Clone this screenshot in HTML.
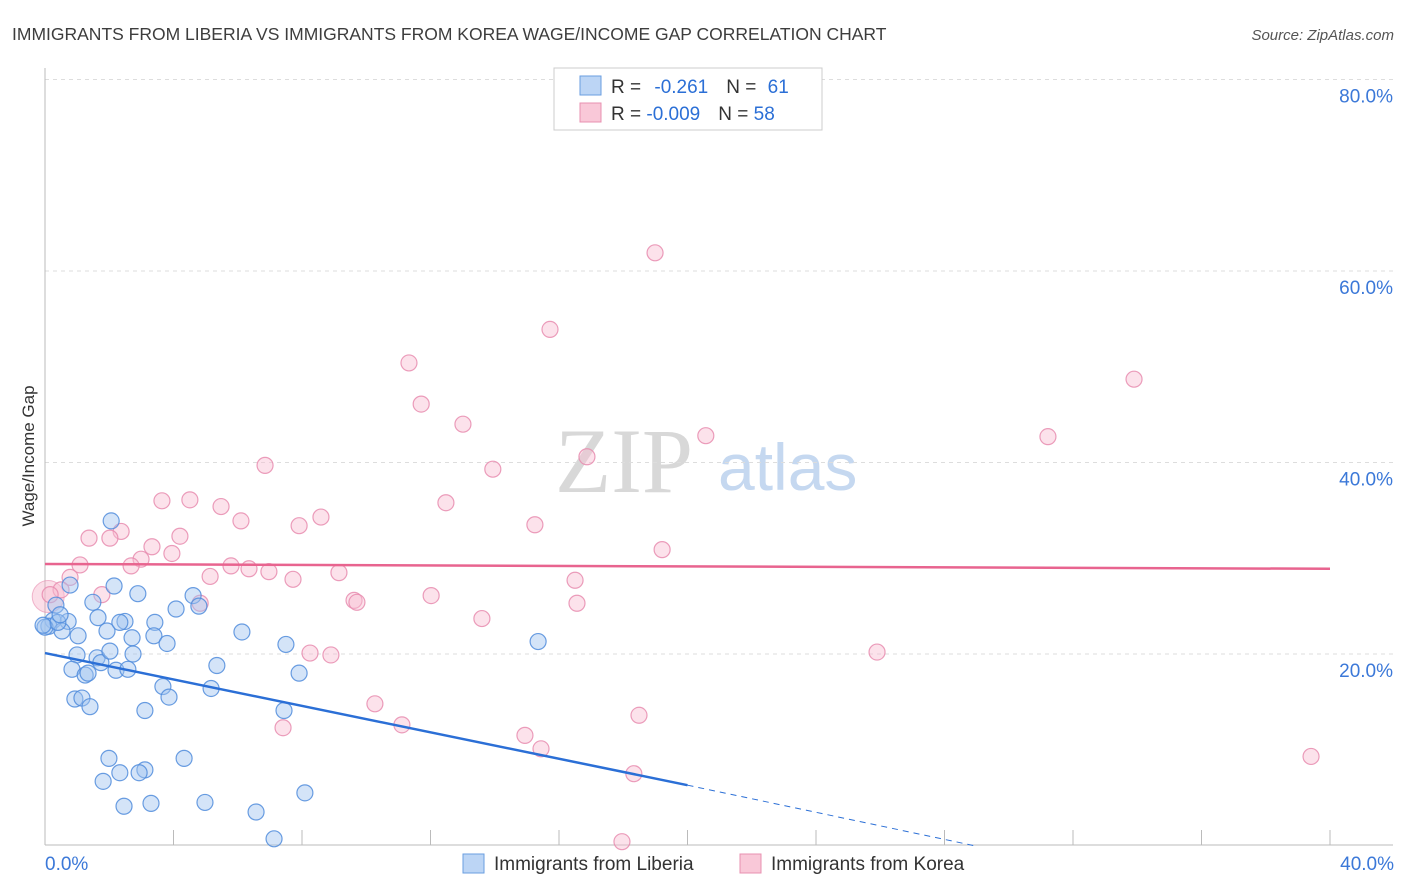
<!DOCTYPE html>
<html><head><meta charset="utf-8"><style>
body{margin:0;background:#fff;font-family:"Liberation Sans",sans-serif;}
#wrap{position:relative;width:1406px;height:892px;overflow:hidden}
</style></head><body>
<div id="wrap">
<svg id="chart" width="1406" height="892" xmlns="http://www.w3.org/2000/svg">
<text x="12" y="40" font-size="17.5" fill="#3d3d3d">IMMIGRANTS FROM LIBERIA VS IMMIGRANTS FROM KOREA WAGE/INCOME GAP CORRELATION CHART</text>
<text x="1394" y="40" font-size="15" fill="#555" font-style="italic" text-anchor="end">Source: ZipAtlas.com</text>
<text x="34" y="456" font-size="17" fill="#333" transform="rotate(-90 34 456)" text-anchor="middle">Wage/Income Gap</text>
<text x="555" y="492" font-size="92" fill="#d8d8d8" font-family="Liberation Serif,serif">ZIP</text>
<text x="718" y="490" font-size="66" fill="#c5d8f0">atlas</text>
<g id="grid"></g><g id="marks"></g>
<g>
<rect x="554" y="68" width="268" height="62" fill="#fff" stroke="#ccc"/>
<rect x="580" y="76" width="21" height="19" fill="#bcd5f5" stroke="#6a9ee0"/>
<rect x="580" y="103" width="21" height="19" fill="#f9c8d8" stroke="#e890b0"/>
<text x="611" y="93" font-size="19" fill="#333">R = <tspan fill="#2b6fd6" dx="8">-0.261</tspan><tspan fill="#333" dx="18">N = </tspan><tspan fill="#2b6fd6" dx="6">61</tspan></text>
<text x="611" y="120" font-size="19" fill="#333">R = <tspan fill="#2b6fd6">-0.009</tspan><tspan fill="#333" dx="18">N = </tspan><tspan fill="#2b6fd6">58</tspan></text>
</g>
<g>
<rect x="463" y="854" width="21" height="19" fill="#bcd5f5" stroke="#6a9ee0"/>
<text x="494" y="870" font-size="19" fill="#333">Immigrants from Liberia</text>
<rect x="740" y="854" width="21" height="19" fill="#f9c8d8" stroke="#e890b0"/>
<text x="771" y="870" font-size="19" fill="#333">Immigrants from Korea</text>
</g>
</svg></div>
<script>
const xTicks=[0,40];
const yTicks=[20,40,60,80];
const blueX=[2.06,0.78,2.15,1.49,2.89,4.61,4.08,1.65,0.72,0.25,0.12,0.53,1.03,1.93,2.49,2.33,3.42,2.71,3.39,3.80,2.74,6.13,7.50,0.996,1.62,1.74,0.84,1.25,1.34,2.21,2.58,5.35,7.91,3.67,3.86,5.17,0.93,1.15,1.40,3.11,7.44,15.35,1.99,4.33,2.33,3.11,2.93,1.81,2.46,3.30,4.98,6.57,8.09,7.13,0.34,0,0.40,4.79,-0.06,0.47,2.02];
const blueY=[33.9,27.2,27.1,25.4,26.3,26.1,24.7,23.8,23.4,23.5,22.9,22.4,21.9,22.4,23.4,23.3,23.3,21.7,21.9,21.1,20.0,22.3,21.0,19.9,19.6,19.1,18.4,17.8,18.0,18.3,18.4,18.8,18.0,16.6,15.5,16.4,15.3,15.4,14.5,14.1,14.1,21.3,9.1,9.1,7.6,7.9,7.6,6.7,4.1,4.4,4.5,3.5,5.5,0.7,25.1,22.8,23.3,25.0,23.0,24.1,20.3];
const pinkX=[18.99,15.72,11.33,33.90,11.71,13.01,20.57,31.22,6.85,16.87,13.94,3.64,4.51,12.48,5.48,8.59,6.10,7.91,15.25,2.37,1.37,4.20,2.02,3.33,3.95,2.99,19.21,5.79,6.35,1.09,2.68,6.97,9.15,5.14,7.72,16.50,0.78,0.50,0.16,1.77,4.83,12.02,9.62,9.71,16.56,13.60,8.25,8.90,25.90,10.27,11.11,7.41,18.49,14.94,15.44,18.33,39.41,17.96];
const pinkY=[61.9,53.9,50.4,48.7,46.1,44.0,42.8,42.7,39.7,40.6,39.3,36.0,36.1,35.8,35.4,34.3,33.9,33.4,33.5,32.8,32.1,32.3,32.1,31.2,30.5,29.9,30.9,29.2,28.9,29.3,29.2,28.6,28.5,28.1,27.8,27.7,28.0,26.7,26.2,26.2,25.3,26.1,25.6,25.4,25.3,23.7,20.1,19.9,20.2,14.8,12.6,12.3,13.6,11.5,10.1,7.5,9.3,0.4];
const trendBlue=[20.1,6.3,0.0];const trendBlueX=[0,20,28.9];
const trendPink=[29.4,28.9];
const NS='http://www.w3.org/2000/svg';
const X=v=>45+v*32.125, Y=v=>845.5-v*9.575;
function mk(t,a,p){const e=document.createElementNS(NS,t);for(const k in a)e.setAttribute(k,a[k]);p.appendChild(e);return e;}
const grid=document.getElementById('grid'),marks=document.getElementById('marks');
yTicks.forEach(t=>{
 const l=mk('line',{x1:45,x2:1393,y1:Y(t),y2:Y(t),stroke:'#ddd','stroke-dasharray':'4 4'},grid);
 
 
 const tx=mk('text',{x:1393,y:Y(t)+23,'font-size':19,fill:'#3b78d8','text-anchor':'end'},grid);tx.textContent=t.toFixed(1)+'%';
 
 
});
mk('line',{x1:45,x2:45,y1:68,y2:845,stroke:'#bbb'},grid);
mk('line',{x1:45,x2:1393,y1:845,y2:845,stroke:'#bbb'},grid);
for(let i=1;i<=10;i++){mk('line',{x1:X(i*4),x2:X(i*4),y1:830,y2:845,stroke:'#bbb'},grid);}
xTicks.forEach((t,i)=>{const tx=mk('text',{x:i?1394:45,y:870,'font-size':19,fill:'#3b78d8','text-anchor':i?'end':'start'},grid);tx.textContent=t.toFixed(1)+'%';
 
 });
// big pink point
const bp=mk('circle',{cx:X(0.1),cy:Y(26),r:16,fill:'rgba(244,160,190,0.35)',stroke:'rgba(232,140,175,0.6)'},marks);


pinkX.forEach((v,i)=>{const c=mk('circle',{cx:X(v),cy:Y(pinkY[i]),r:8,fill:'rgba(248,190,210,0.45)',stroke:'rgba(232,140,175,0.85)','stroke-width':1.2},marks);
 
 });
blueX.forEach((v,i)=>{const c=mk('circle',{cx:X(v),cy:Y(blueY[i]),r:8,fill:'rgba(160,196,240,0.45)',stroke:'rgba(80,140,220,0.85)','stroke-width':1.2},marks);
 
 });
const l1=mk('line',{x1:X(trendBlueX[0]),y1:Y(trendBlue[0]),x2:X(trendBlueX[1]),y2:Y(trendBlue[1]),stroke:'#2b6fd6','stroke-width':2.5},marks);


const l2=mk('line',{x1:X(trendBlueX[1]),y1:Y(trendBlue[1]),x2:X(trendBlueX[2]),y2:Y(trendBlue[2]),stroke:'#2b6fd6','stroke-width':1,'stroke-dasharray':'6 5'},marks);


const l3=mk('line',{x1:X(0),y1:Y(trendPink[0]),x2:X(40),y2:Y(trendPink[1]),stroke:'#e8648f','stroke-width':2.5},marks);


</script>
</body></html>
